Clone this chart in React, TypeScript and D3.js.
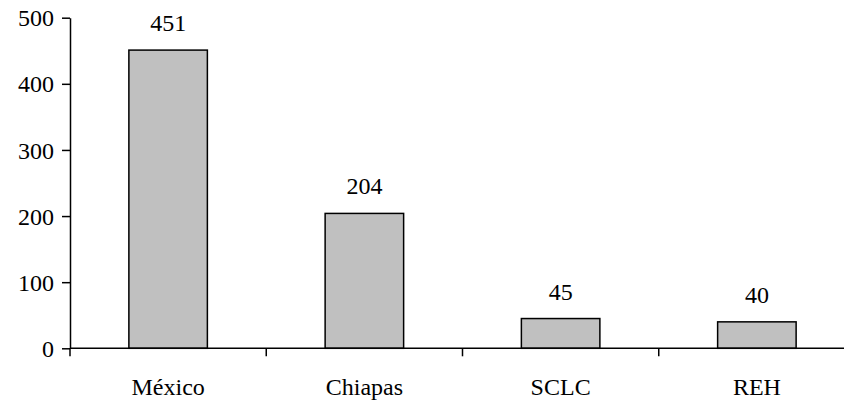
import { useEffect, useRef } from 'react';
import * as d3 from 'd3';

const categories = ['México', 'Chiapas', 'SCLC', 'REH'];
const values = [451, 204, 45, 40];
const yTicks = [0, 100, 200, 300, 400, 500];

export default function App() {
  const svgRef = useRef<SVGSVGElement>(null);
  const width = 844;
  const height = 404;

  useEffect(() => {
    if (!svgRef.current) return;
    const svg = d3.select(svgRef.current);
    svg.selectAll('*').remove();

    const x = d3.scaleBand<string>()
      .domain(categories)
      .range([70, 855])
      .paddingInner(0.6)
      .paddingOuter(0.3);

    const y = d3.scaleLinear()
      .domain([0, 500])
      .range([348.3, 17.7]);

    const font = "'Times New Roman', 'Liberation Serif', Tinos, 'DejaVu Serif', serif";
    const fontSize = 24;

    // bars
    svg.append('g')
      .selectAll('rect')
      .data(values)
      .join('rect')
      .attr('x', (_, i) => x(categories[i])!)
      .attr('y', d => y(d))
      .attr('width', x.bandwidth())
      .attr('height', d => y(0) - y(d))
      .attr('fill', '#c0c0c0')
      .attr('stroke', '#000')
      .attr('stroke-width', 1.5);

    // value labels
    svg.append('g')
      .selectAll('text')
      .data(values)
      .join('text')
      .attr('x', (_, i) => x(categories[i])! + x.bandwidth() / 2)
      .attr('y', d => y(d) - 19)
      .attr('text-anchor', 'middle')
      .style('font-family', font)
      .style('font-size', `${fontSize}px`)
      .text(d => d);

    // y axis
    const yAxis = svg.append('g')
      .attr('transform', 'translate(70,0)')
      .call(d3.axisLeft(y).tickValues(yTicks).tickSize(8).tickSizeOuter(0).tickPadding(8));
    yAxis.attr('font-family', null).attr('font-size', null);
    yAxis.selectAll('line, path').attr('stroke', '#000').attr('stroke-width', 1.5);
    yAxis.selectAll('text')
      .attr('fill', '#000')
      .attr('dy', '0.34em')
      .style('font-family', font)
      .style('font-size', `${fontSize}px`);

    // x axis
    const band = (855 - 70) / categories.length;
    const xAxis = svg.append('g');
    xAxis.append('line')
      .attr('x1', 70).attr('x2', 855)
      .attr('y1', y(0)).attr('y2', y(0))
      .attr('stroke', '#000').attr('stroke-width', 1.5);
    xAxis.selectAll('line.tick')
      .data(d3.range(categories.length + 1))
      .join('line')
      .attr('class', 'tick')
      .attr('x1', i => 70 + i * band).attr('x2', i => 70 + i * band)
      .attr('y1', y(0)).attr('y2', y(0) + 8)
      .attr('stroke', '#000').attr('stroke-width', 1.5);
    xAxis.selectAll('text')
      .data(categories)
      .join('text')
      .attr('x', d => x(d)! + x.bandwidth() / 2)
      .attr('y', 395)
      .attr('text-anchor', 'middle')
      .style('font-family', font)
      .style('font-size', `${fontSize}px`)
      .text(d => d);
  }, []);

  return (
    <svg
      ref={svgRef}
      width={width}
      height={height}
      viewBox={`0 0 ${width} ${height}`}
      style={{ position: 'absolute', left: 0, top: 0, background: '#fff' }}
    />
  );
}
